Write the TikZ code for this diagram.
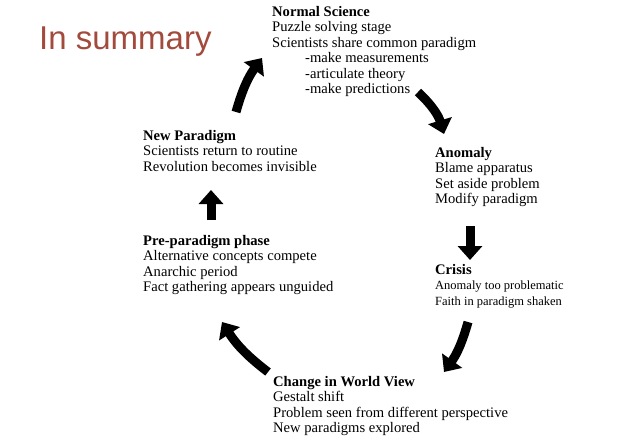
\documentclass[tikz,border=0pt]{standalone}
\usepackage{fontspec}
\setmainfont{Liberation Serif}
\newfontfamily\sumfont{Liberation Sans}
\usetikzlibrary{arrows.meta}
\definecolor{sumred}{HTML}{A24A3C}
\begin{document}
\begin{tikzpicture}[x=1pt,y=-1pt,
  blk/.style={anchor=north west,align=left,inner sep=0pt,font=\fontsize{14.6}{15.5}\selectfont},
  bigarrow/.style={line width=9pt,-{Triangle[length=14pt,width=24pt]}}]
\useasboundingbox (0,0) rectangle (640,445);
\node[anchor=west,text=sumred,font=\sumfont\fontsize{33}{35}\selectfont,inner sep=0pt] (sum) at (39,42) {In summary};
\node[blk] (ns) at (272,6) {\textbf{Normal Science}\\Puzzle solving stage\\Scientists share common paradigm\\\hspace{33pt}-make measurements\\\hspace{33pt}-articulate theory\\\hspace{33pt}-make predictions};
\node[blk] (an) at (435,147) {\textbf{Anomaly}\\Blame apparatus\\Set aside problem\\Modify paradigm};
\node[blk,font=\fontsize{12.5}{15.5}\selectfont] (cr) at (435,264) {{\fontsize{14.6}{15.5}\selectfont\textbf{Crisis}}\\Anomaly too problematic\\Faith in paradigm shaken};
\node[blk] (cw) at (273,376) {\textbf{Change in World View}\\Gestalt shift\\Problem seen from different perspective\\New paradigms explored};
\node[blk] (pp) at (143,235) {\textbf{Pre-paradigm phase}\\Alternative concepts compete\\Anarchic period\\Fact gathering appears unguided};
\node[blk] (np) at (143,130) {\textbf{New Paradigm}\\Scientists return to routine\\Revolution becomes invisible};
\coordinate (a1s) at (236,112); \coordinate (a1e) at (262,58);
\coordinate (a2s) at (418,92); \coordinate (a2e) at (444,134);
\coordinate (a3s) at (470,226); \coordinate (a3e) at (470,260);
\coordinate (a4s) at (468,322); \coordinate (a4e) at (444,372);
\coordinate (a5s) at (268,372); \coordinate (a5e) at (222,322);
\coordinate (a6s) at (211,220); \coordinate (a6e) at (211,190);
\draw[bigarrow] (a1s) to[bend left=10] (a1e);
\draw[bigarrow] (a2s) to[bend left=15] (a2e);
\draw[bigarrow] (a3s) -- (a3e);
\draw[bigarrow] (a4s) to[bend left=10] (a4e);
\draw[bigarrow] (a5s) to[bend left=10] (a5e);
\draw[bigarrow] (a6s) -- (a6e);
\end{tikzpicture}
\end{document}
